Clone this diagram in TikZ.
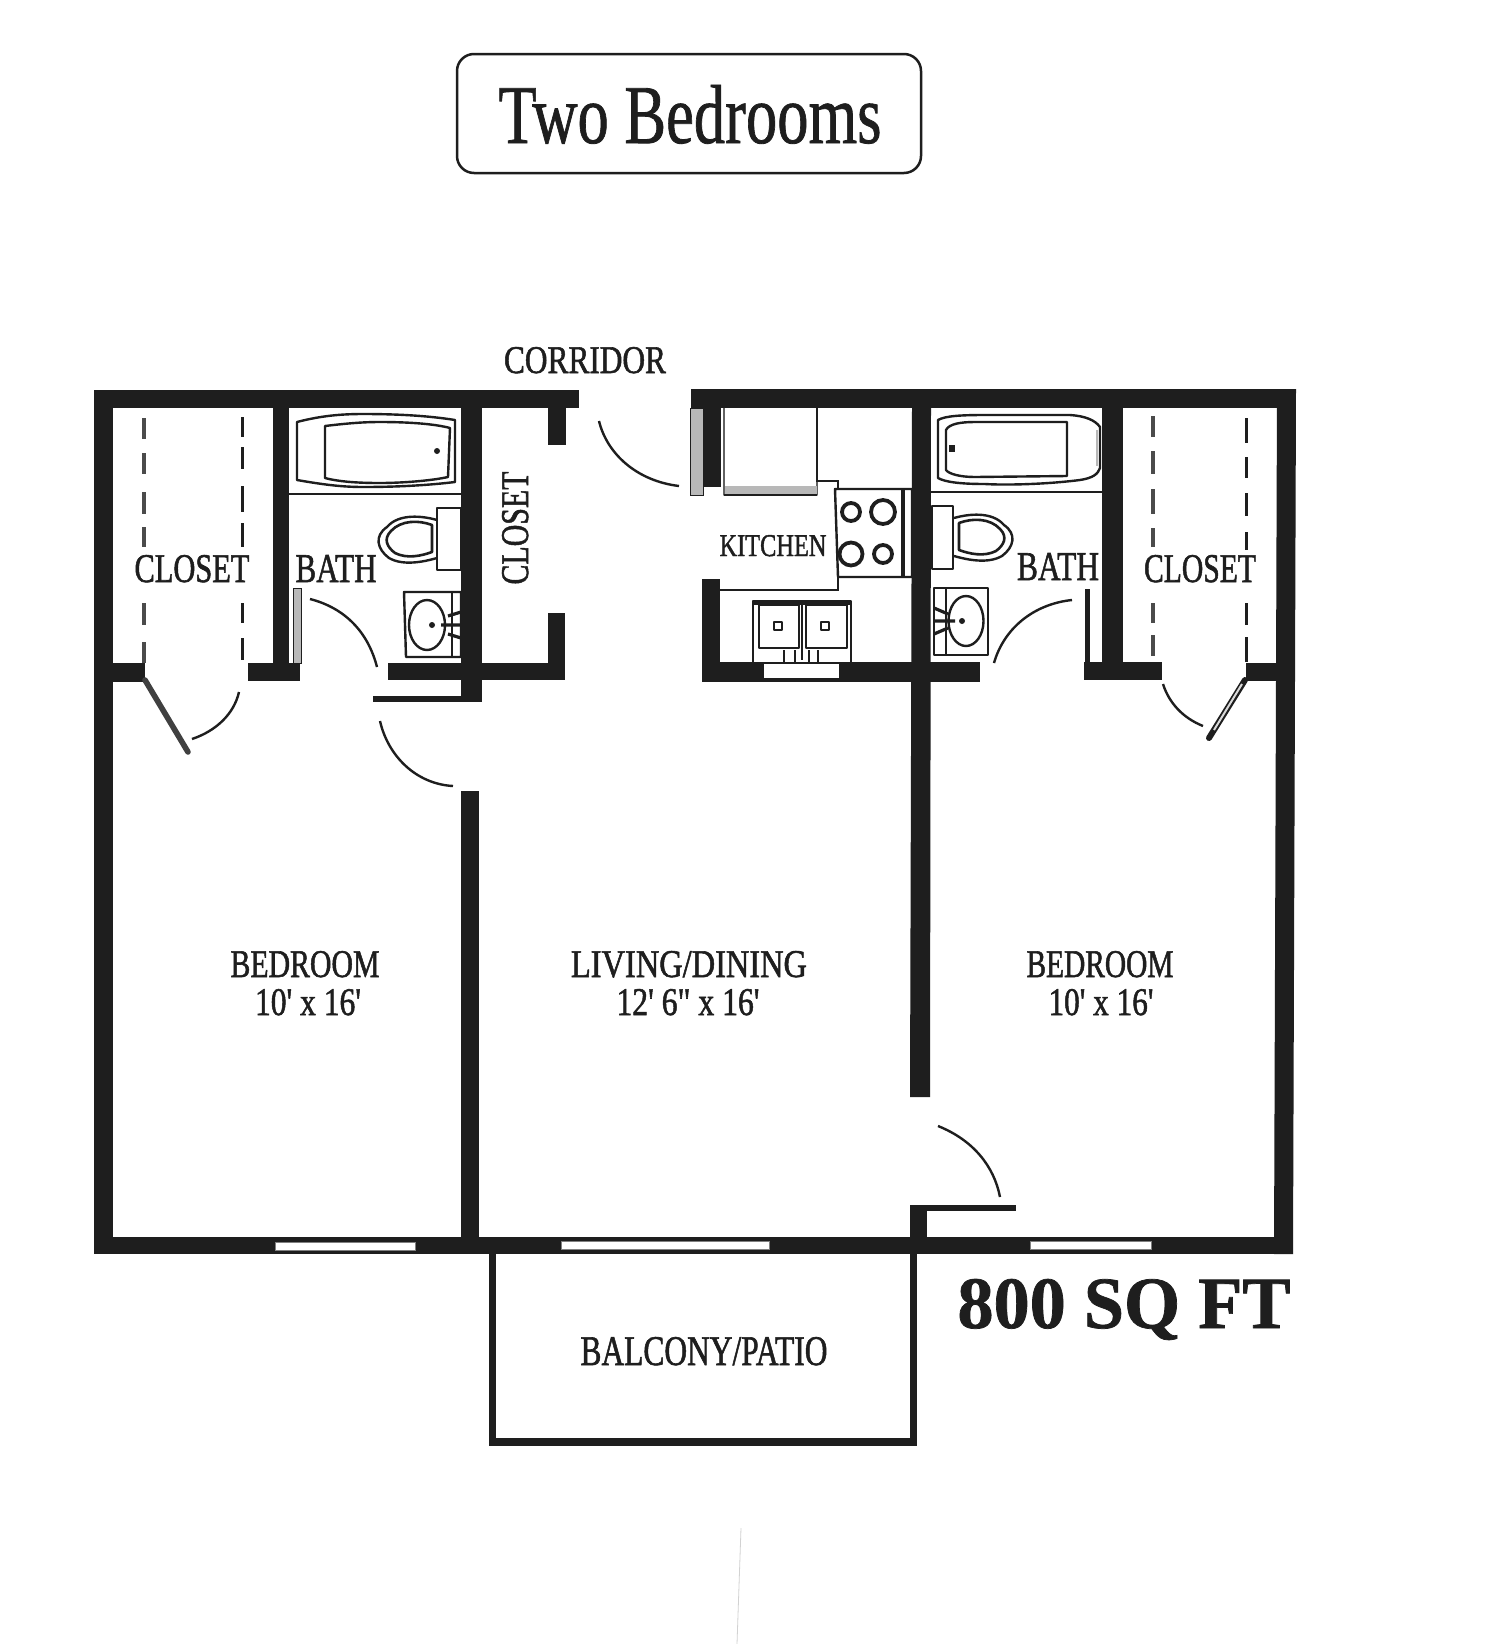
\documentclass[tikz,border=0pt]{standalone}
\usepackage{graphicx}
\usepackage{fontspec}
\setmainfont{Liberation Serif}
\newfontfamily\labf{Liberation Serif}[FakeBold=1.5]
\newfontfamily\titlef{Liberation Serif}[FakeBold=1]
\newfontfamily\areaf{Liberation Serif Bold}[FakeBold=1]
\newlength\pxu
\setlength\pxu{0.5pt}
\newcommand{\fitbox}[3]{\resizebox{#1\pxu}{#2\pxu}{#3}}
\definecolor{wallc}{HTML}{1E1E1E}
\definecolor{stripc}{HTML}{B8B8B8}
\tikzset{
  wall/.style={fill=wallc},
  lab/.style={anchor=base,inner sep=0pt,text=wallc,font=\labf},
  fixture/.style={draw=wallc,line width=1.2pt,fill=white,line join=round},
  fixthin/.style={draw=wallc,line width=0.9pt,line join=round},
  swing/.style={draw=wallc,line width=1.2pt},
  dashleft/.style={draw=wallc!80!white,line width=1.8pt},
  dashright/.style={draw=wallc,line width=1.5pt},
  strip/.style={draw=wallc,line width=0.5pt,fill=stripc},
  glass/.style={draw=gray,line width=0.4pt,fill=white},
  burner/.style={draw=wallc,line width=1.9pt},
  thinwall/.style={draw=wallc,line width=1.3pt},
}
\newcommand{\bowlshape}{%
  \draw[fixture] (0,-19) .. controls (-14,-23) and (-38,-26) .. (-50,-12)
     .. controls (-63,-3) and (-60,10) .. (-48,19)
     .. controls (-34,27) and (-14,23) .. (0,19);
  \draw[fixthin,line width=1.3pt] (-5,-14) .. controls (-18,-19) and (-36,-19) .. (-46,-8)
     .. controls (-54,0) and (-50,8) .. (-42,14)
     .. controls (-30,20) and (-16,17) .. (-5,13) -- cycle;
}
\begin{document}
\begin{tikzpicture}[x=0.5pt,y=-0.5pt]
\useasboundingbox (0,0) rectangle (1492,1644);
\fill[white] (0,0) rectangle (1492,1644);

% title
\draw[draw=wallc,line width=1.25pt,rounded corners=8.5pt] (457,54) rectangle (921,173);
\node[lab,font=\titlef] (title) at (690,143) {\fitbox{383}{58}{Two Bedrooms}};
\node[lab] (corridor) at (585,373) {\fitbox{162}{26}{CORRIDOR}};

% outer walls
\fill[wall] (94,390) rectangle (579,408);
\fill[wall] (691,389) rectangle (1296,408);
\fill[wall] (94,390) rectangle (113,1254);
\fill[wall] (1277,389) -- (1296,389) -- (1293,1254) -- (1274,1254) -- cycle;
\fill[wall] (94,1237) rectangle (1293,1254);

% left block
\fill[wall] (273,408) rectangle (289,681);
\fill[wall] (113,663) rectangle (145,682);
\fill[wall] (248,663) rectangle (300,681);
\fill[wall] (461,408) rectangle (482,701);
\fill[wall] (373,696) rectangle (482,702);
\fill[wall] (388,663) rectangle (565,680);
\fill[wall] (548,408) rectangle (566,445);
\fill[wall] (548,613) rectangle (565,663);
\fill[wall] (461,791) rectangle (479,1237);

% right block
\fill[wall] (703,408) rectangle (721,487);
\fill[wall] (702,579) rectangle (720,682);
\fill[wall] (702,662) rectangle (980,682);
\fill[white] (764,664) rectangle (839,678);
\fill[wall] (912,408) -- (931,408) -- (930,1097) -- (910,1097) -- cycle;
\fill[wall] (1102,408) rectangle (1123,662);
\fill[wall] (1084,662) rectangle (1162,680);
\fill[wall] (1246,663) rectangle (1277,681);
\fill[wall] (1085,589) rectangle (1090,662);
\fill[wall] (910,1205) rectangle (927,1237);
\fill[wall] (927,1205) rectangle (1016,1211);

% windows
\draw[glass] (275,1242) rectangle (415,1250);
\draw[glass] (561,1241) rectangle (769,1249);
\draw[glass] (1030,1241) rectangle (1151,1249);

% balcony
\fill[wall] (489,1254) rectangle (496,1446);
\fill[wall] (910,1254) rectangle (917,1446);
\fill[wall] (489,1438) rectangle (917,1446);

% door leaves
\draw[strip] (293,588) rectangle (301,663);
\draw[strip] (690,408) rectangle (703,495);
\draw[draw=wallc!85!white,line width=2.8pt,line cap=round] (145,680) -- (188,752);
\draw[draw=wallc,line width=3pt,line cap=round] (1245,680) -- (1209,738);
\draw[draw=white!70!gray,line width=1pt] (1242,684) -- (1214,730);

% door swings
\draw[swing] (310,599) .. controls (345,608) and (368,632) .. (377,667);
\draw[swing] (380,721) .. controls (388,756) and (416,784) .. (453,786);
\draw[swing] (192,739) .. controls (216,731) and (234,714) .. (239,692);
\draw[swing] (599,421) .. controls (607,454) and (637,481) .. (679,486);
\draw[swing] (1072,600) .. controls (1034,604) and (1004,628) .. (994,663);
\draw[swing] (1163,684) .. controls (1169,703) and (1183,718) .. (1203,726);
\draw[swing] (938,1126) .. controls (973,1140) and (994,1166) .. (1000,1197);

% closet rods, left
\foreach \a/\b in {418/439,453/474,492/514,527/547,603/625,642/663}
  \draw[dashleft] (144,\a) -- (144,\b);
\foreach \a/\b in {417/437,447/469,486/512,523/547,603/623,638/660}
  \draw[dashright] (242,\a) -- (242,\b);
% closet rods, right
\foreach \a/\b in {416/437,451/474,489/514,528/547,603/623,635/656}
  \draw[dashleft] (1153,\a) -- (1153,\b);
\foreach \a/\b in {418/443,457/478,493/516,532/550,603/625,637/662}
  \draw[dashright] (1246,\a) -- (1246,\b);

% left bath: tub
\draw[fixture] (297,422) .. controls (320,416) and (340,414) .. (363,414)
   .. controls (400,414) and (430,416) .. (455,420) -- (455,482)
   .. controls (430,485) and (400,487) .. (363,487)
   .. controls (340,487) and (320,484) .. (297,480) -- cycle;
\draw[fixture] (325,426) .. controls (350,423) and (365,422) .. (380,422)
   .. controls (410,422) and (435,424) .. (450,428) -- (448,477)
   .. controls (430,481) and (400,483) .. (380,483)
   .. controls (360,483) and (340,482) .. (325,478) -- cycle;
\fill[wallc] (437,451) circle [radius=3];
\draw[thinwall] (289,494) -- (461,494);
% left bath: toilet
\begin{scope}[shift={(437,539)}]
  \bowlshape
\end{scope}
\draw[fixture] (437,508) rectangle (461,570);
% left bath: basin
\draw[fixture] (404,592) -- (461,592) -- (461,657) -- (406,657) -- cycle;
\draw[fixthin] (452,592) -- (452,657);
\draw[fixture] (427,625) ellipse [x radius=18,y radius=25];
\fill[wallc] (432,625) circle [radius=3];
\draw[draw=wallc,line width=1.6pt] (441,625) -- (461,625) (448,616) -- (461,612) (448,634) -- (461,638);

% kitchen
\draw[fixture,draw=gray!70!wallc] (724,408) -- (724,495) -- (817,495) -- (817,408);
\fill[stripc] (725,486) rectangle (817,495);
\draw[draw=wallc,line width=1pt] (724,495) -- (817,495);
\draw[thinwall] (817,408) -- (817,481) -- (838,481) -- (838,489);
\draw[fixture] (835,489) -- (912,489) -- (912,577) -- (838,577) -- cycle;
\draw[draw=wallc,line width=2pt] (903,489) -- (903,577);
\draw[burner] (851,512) circle [radius=9];
\draw[burner] (883,512) circle [radius=12];
\draw[burner] (851,554) circle [radius=11.5];
\draw[burner] (883,554) circle [radius=9];
\draw[thinwall] (838,577) -- (838,590) -- (720,590);
% kitchen sink
\draw[fixthin] (753,662) -- (753,601) -- (851,601) -- (851,662);
\fill[wallc] (753,601) rectangle (851,605);
\draw[fixture] (759,605) rectangle (799,648);
\draw[fixture] (806,605) rectangle (847,648);
\draw[fixthin,fill=white] (778,626) +(-4,-4) rectangle +(4,4);
\draw[fixthin,fill=white] (825,626) +(-4,-4) rectangle +(4,4);
\draw[thinwall] (802,605) -- (802,660);
\draw[fixthin] (784,650) -- (784,662) (795,650) -- (795,662) (809,650) -- (809,662) (818,650) -- (818,662);

% right bath: tub
\draw[fixture] (938,420) .. controls (945,416) and (960,415) .. (985,415)
   -- (1070,415) .. controls (1085,416) and (1095,420) .. (1100,427)
   -- (1100,468) .. controls (1098,474) and (1093,478) .. (1080,480)
   .. controls (1040,485) and (1000,485) .. (985,484)
   .. controls (960,484) and (945,482) .. (938,478) -- cycle;
\draw[fixture] (946,430) .. controls (949,424) and (960,422) .. (975,422)
   -- (1067,422) -- (1067,476) -- (975,477)
   .. controls (960,477) and (949,474) .. (946,470) -- cycle;
\fill[wallc] (949,445) rectangle (955,452);
\draw[draw=stripc,line width=1pt] (1097,430) -- (1097,466);
\draw[thinwall] (931,492) -- (1102,492);
% right bath: toilet
\begin{scope}[shift={(954,537)},xscale=-1]
  \bowlshape
\end{scope}
\draw[fixture] (932,506) rectangle (953,569);
% right bath: basin
\draw[fixture] (934,588) -- (988,588) -- (988,655) -- (934,655) -- cycle;
\draw[fixthin] (946,588) -- (946,655);
\draw[fixture] (966,621) ellipse [x radius=17.5,y radius=25];
\fill[wallc] (962,621) circle [radius=3];
\draw[draw=wallc,line width=1.6pt] (934,621) -- (955,621) (934,608) -- (948,614) (934,634) -- (948,628);

% labels
\node[lab] (closetL) at (192,582) {\fitbox{115}{27}{CLOSET}};
\node[lab] (bathL) at (336,582) {\fitbox{81}{27}{BATH}};
\node[lab,rotate=90] (closetM) at (528,528) {\fitbox{113}{26}{CLOSET}};
\node[lab] (kitchen) at (773,556) {\fitbox{107}{21}{KITCHEN}};
\node[lab] (bathR) at (1058,580) {\fitbox{82}{27}{BATH}};
\node[lab] (closetR) at (1200,582) {\fitbox{112}{27}{CLOSET}};
\node[lab] (bedL) at (305,977) {\fitbox{149}{26}{BEDROOM}};
\node[lab] (bedLd) at (308,1015) {\fitbox{106}{26}{10' x 16'}};
\node[lab] (living) at (689,977) {\fitbox{236}{26}{LIVING/DINING}};
\node[lab] (livingd) at (688,1015) {\fitbox{143}{26}{12' 6" x 16'}};
\node[lab] (bedR) at (1100,977) {\fitbox{147}{26}{BEDROOM}};
\node[lab] (bedRd) at (1101,1015) {\fitbox{105}{26}{10' x 16'}};
\node[lab] (balcony) at (704,1365) {\fitbox{247}{28}{BALCONY/PATIO}};
\node[lab,font=\areaf] (area) at (1124,1328) {\fitbox{333}{49}{800 SQ FT}};

% stray mark
\draw[draw=gray!35,line width=0.4pt] (741,1528) -- (737,1644);
\end{tikzpicture}
\end{document}
